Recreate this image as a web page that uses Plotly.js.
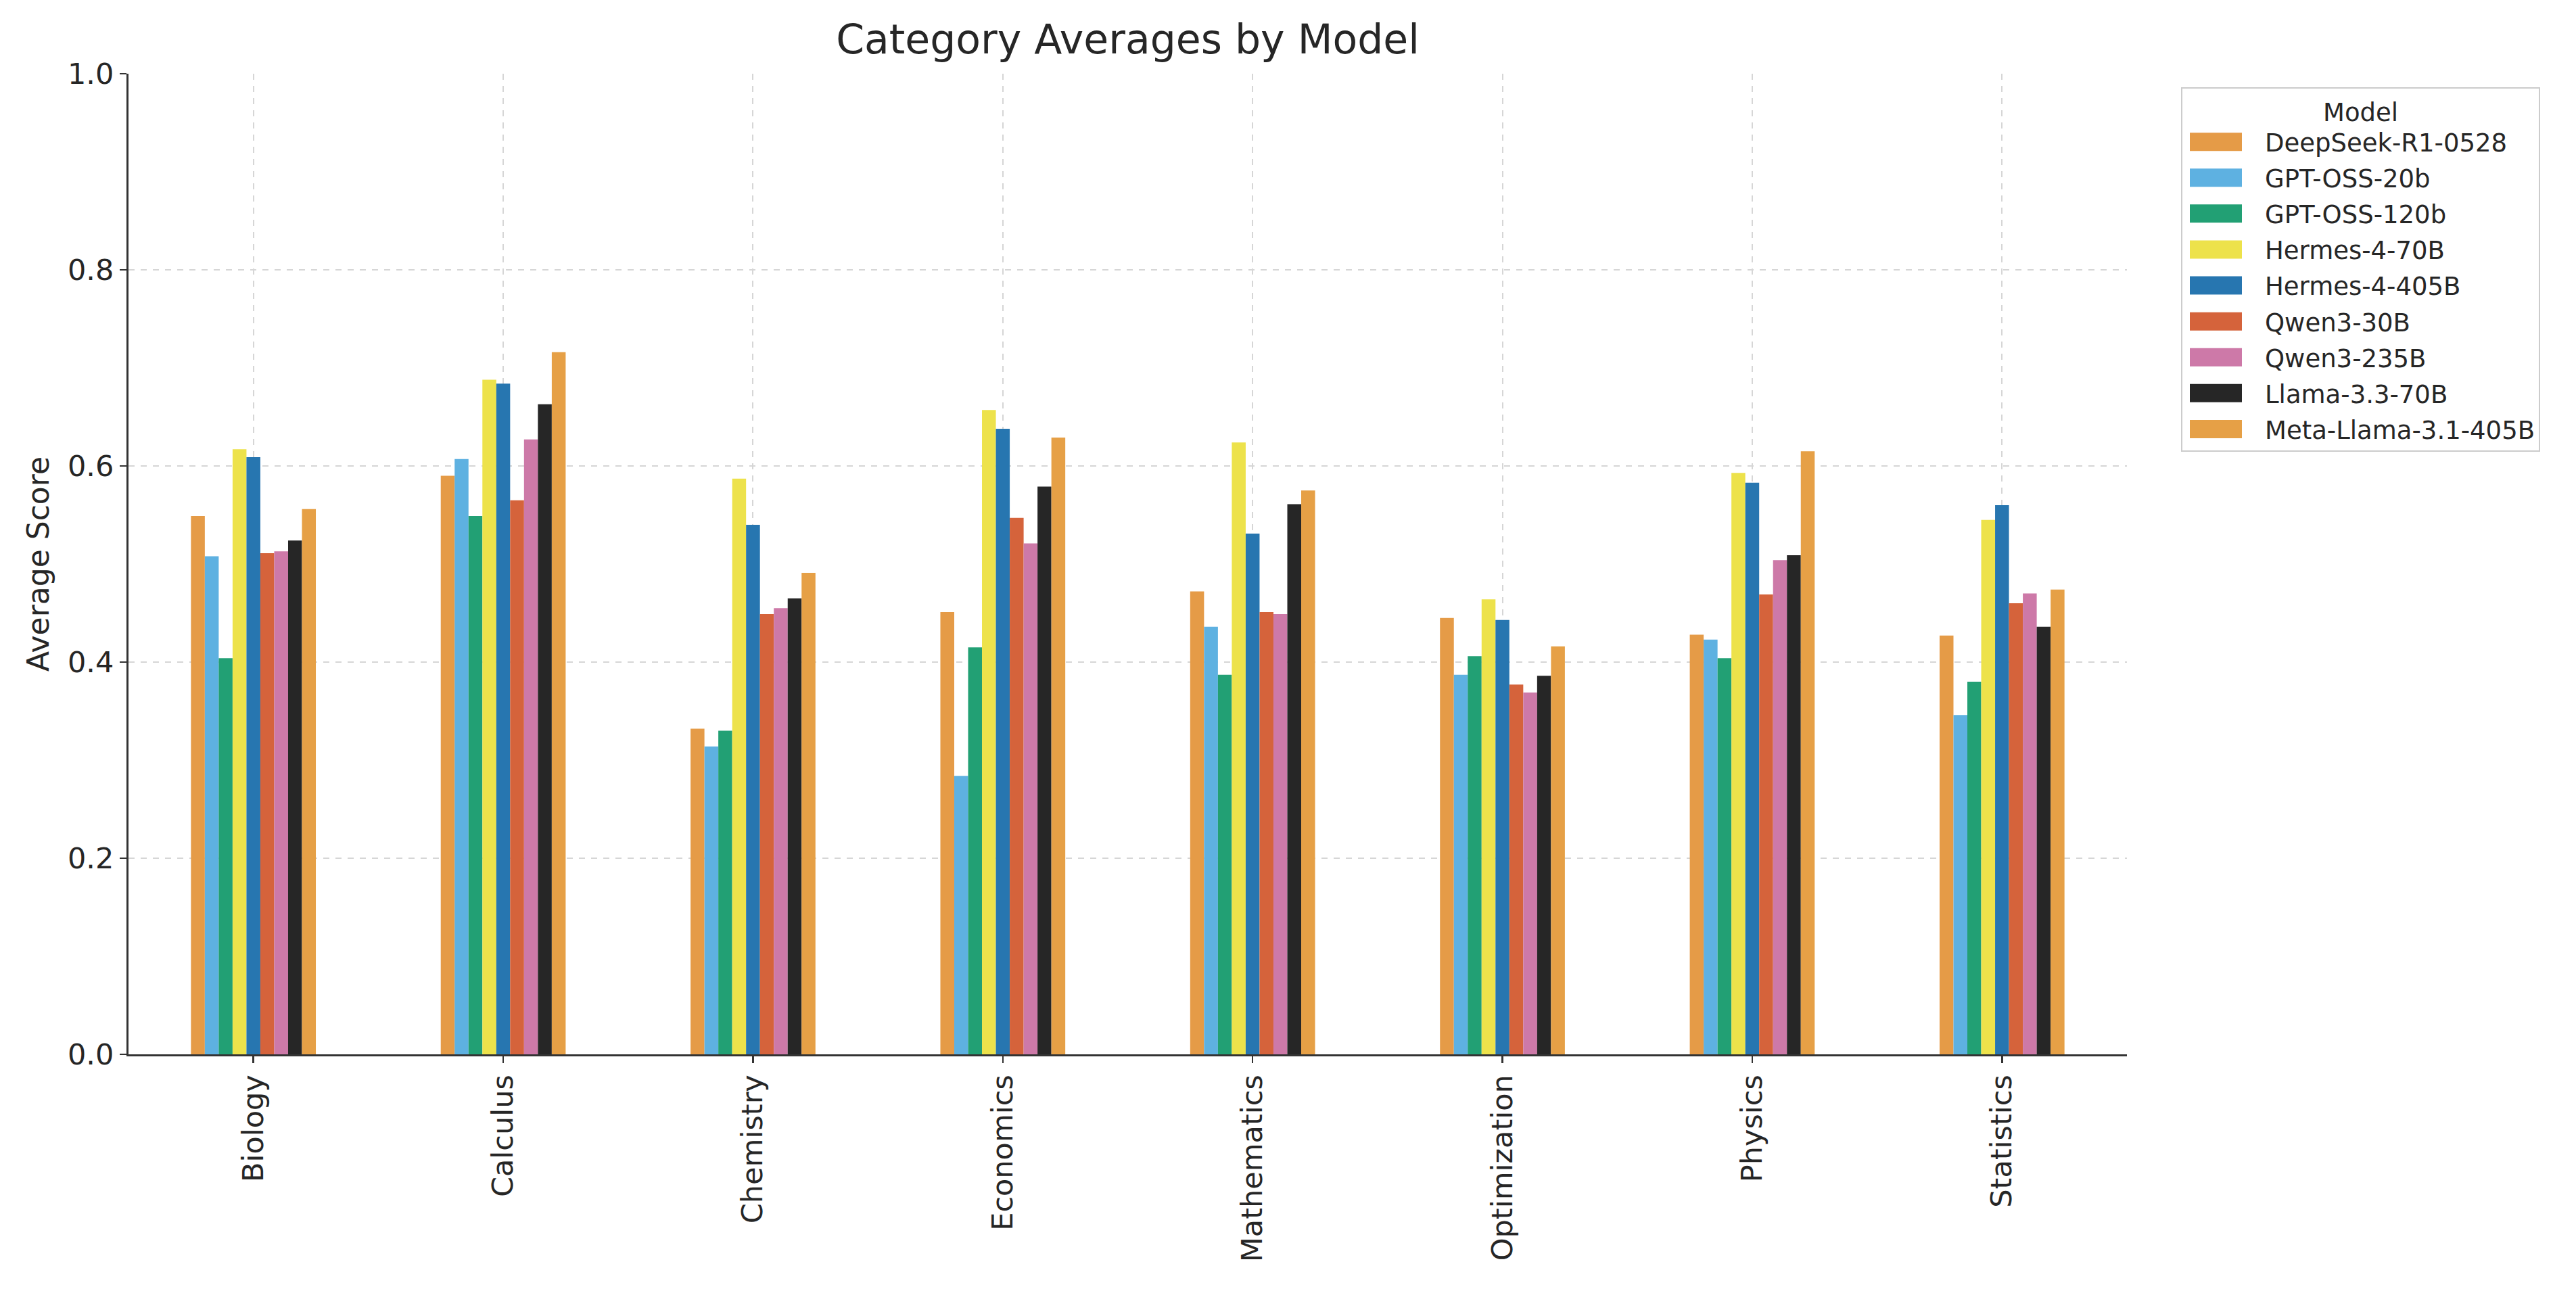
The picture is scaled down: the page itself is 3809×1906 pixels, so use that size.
<!DOCTYPE html>
<html>
<head>
<meta charset="utf-8">
<script src="https://cdn.plot.ly/plotly-3.0.1.min.js"></script>
<style>
  html, body { margin: 0; padding: 0; background: #ffffff; }
  #chart { width: 3809px; height: 1906px; }
</style>
</head>
<body>
<div id="chart"></div>
<script>
// ---- Data ----
const categories = ["Biology", "Calculus", "Chemistry", "Economics", "Mathematics", "Optimization", "Physics", "Statistics"];

const models = ["DeepSeek-R1-0528", "GPT-OSS-20b", "GPT-OSS-120b", "Hermes-4-70B", "Hermes-4-405B", "Qwen3-30B", "Qwen3-235B", "Llama-3.3-70B", "Meta-Llama-3.1-405B"];

const deepseekR1 = [0.549, 0.590, 0.332, 0.451, 0.472, 0.445, 0.428, 0.427];
const gptOss20b  = [0.508, 0.607, 0.314, 0.284, 0.436, 0.387, 0.423, 0.346];
const gptOss120b = [0.404, 0.549, 0.330, 0.415, 0.387, 0.406, 0.404, 0.380];
const hermes70b  = [0.617, 0.688, 0.587, 0.657, 0.624, 0.464, 0.593, 0.545];
const hermes405b = [0.609, 0.684, 0.540, 0.638, 0.531, 0.443, 0.583, 0.560];
const qwen30b    = [0.511, 0.565, 0.449, 0.547, 0.451, 0.377, 0.469, 0.460];
const qwen235b   = [0.513, 0.627, 0.455, 0.521, 0.449, 0.369, 0.504, 0.470];
const llama70b   = [0.524, 0.663, 0.465, 0.579, 0.561, 0.386, 0.509, 0.436];
const metaLlama405b = [0.556, 0.716, 0.491, 0.629, 0.575, 0.416, 0.615, 0.474];

const seriesValues = [deepseekR1, gptOss20b, gptOss120b, hermes70b, hermes405b, qwen30b, qwen235b, llama70b, metaLlama405b];

const colors = ["#E59B47", "#5EB1E1", "#22A074", "#EDE24B", "#2776B0", "#D5633B", "#CD79A8", "#262626", "#E6A046"];

const yTickVals = [0, 0.2, 0.4, 0.6, 0.8, 1.0];
const yTickText = ["0.0", "0.2", "0.4", "0.6", "0.8", "1.0"];

// ---- Build traces ----
const traces = models.map((name, i) => ({
  type: "bar",
  name: name,
  x: categories,
  y: seriesValues[i],
  legendgroup: "g" + i,
  marker: { color: colors[i], line: { width: 0 } },
  hoverinfo: "x+y+name"
}));

const FONT = "DejaVu Sans, Liberation Sans, sans-serif";
const TXT = "#262626";

const layout = {
  width: 3809,
  height: 1906,
  paper_bgcolor: "#ffffff",
  plot_bgcolor: "#ffffff",
  font: { family: FONT, color: TXT, size: 43 },
  margin: { l: 190, r: 664, t: 109, b: 347, autoexpand: false },
  barmode: "group",
  bargap: 0.5,
  bargroupgap: 0,
  title: {
    text: "Category Averages by Model",
    font: { family: FONT, size: 60, color: TXT },
    x: 0.5,
    xref: "paper",
    xanchor: "center",
    y: 1 - 58 / 1906,
    yref: "container",
    yanchor: "middle"
  },
  xaxis: {
    type: "category",
    range: [-0.5, 7.5],
    tickangle: -90,
    tickfont: { family: FONT, size: 43, color: TXT },
    ticks: "outside",
    ticklen: 10,
    tickwidth: 2.5,
    tickcolor: "#333333",
    showline: true,
    linecolor: "#333333",
    linewidth: 3,
    mirror: false,
    showgrid: true,
    gridcolor: "#d6d6d6",
    gridwidth: 2,
    griddash: "dash",
    zeroline: false,
    automargin: false
  },
  yaxis: {
    range: [0, 1],
    tickvals: yTickVals,
    ticktext: yTickText,
    tickfont: { family: FONT, size: 43, color: TXT },
    ticks: "outside",
    ticklen: 10,
    tickwidth: 2.5,
    tickcolor: "#333333",
    showline: true,
    linecolor: "#333333",
    linewidth: 3,
    mirror: false,
    showgrid: true,
    gridcolor: "#d6d6d6",
    gridwidth: 2,
    griddash: "dash",
    zeroline: false,
    automargin: false,
    title: {
      text: "Average Score",
      font: { family: FONT, size: 44, color: TXT },
      standoff: 14
    }
  },
  showlegend: true,
  legend: {
    x: (3225 - 190) / 2955,
    xref: "paper",
    xanchor: "left",
    y: (1559 - 129) / 1450,
    yref: "paper",
    yanchor: "top",
    bgcolor: "#ffffff",
    bordercolor: "#cccccc",
    borderwidth: 2,
    font: { family: FONT, size: 37, color: TXT },
    title: { text: "Model", side: "top center", font: { family: FONT, size: 37, color: TXT } },
    traceorder: "grouped",
    tracegroupgap: 2,
    itemwidth: 112,
    itemsizing: "constant"
  }
};

// Enlarge legend colour patches to matplotlib-style rectangles
function enlargeLegendPatches(gd) {
  const targetCx = 3276.5;
  const paths = gd.querySelectorAll("g.legendpoints path");
  paths.forEach(p => {
    if (p.getAttribute("data-big") === "1") return;
    p.setAttribute("d", "M38.5,13.5H-38.5V-13.5H38.5Z");
    const r = p.getBoundingClientRect();
    const cx = r.left + r.width / 2;
    const t = p.getAttribute("transform") || "";
    p.setAttribute("transform", t + " translate(" + (targetCx - cx) + ",0)");
    p.setAttribute("data-big", "1");
  });
}

const gdEl = document.getElementById("chart");
Plotly.newPlot(gdEl, traces, layout, { displayModeBar: false, staticPlot: true }).then(gd => {
  enlargeLegendPatches(gd);
  gd.on("plotly_afterplot", () => enlargeLegendPatches(gd));
  setTimeout(() => enlargeLegendPatches(gd), 50);
  setTimeout(() => enlargeLegendPatches(gd), 300);
});
</script>
</body>
</html>
